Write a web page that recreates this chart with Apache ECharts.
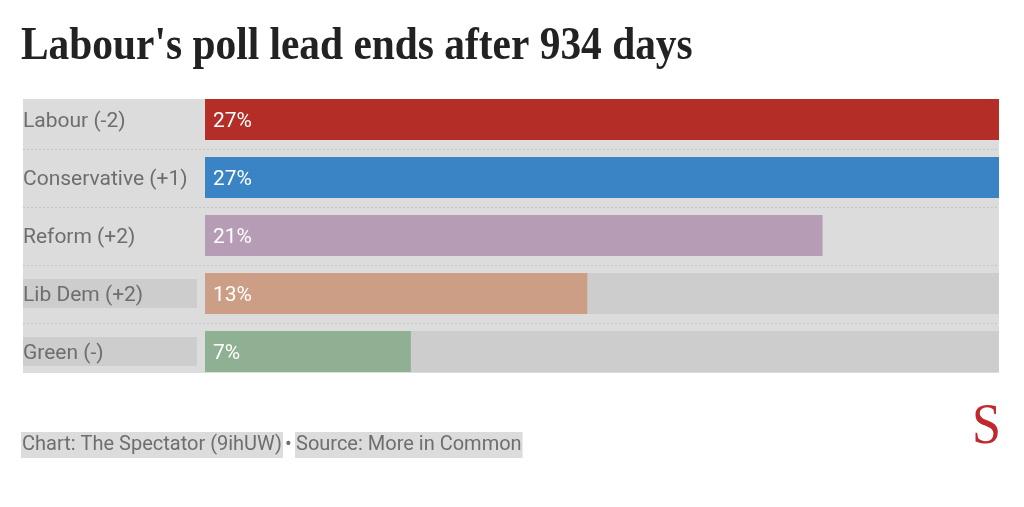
<!DOCTYPE html>
<html>
<head>
<meta charset="utf-8">
<script src="https://cdn.jsdelivr.net/npm/echarts@6/dist/echarts.min.js"></script>
<style>
html,body{margin:0;padding:0;background:#fff;}
#c{width:1024px;height:507px;}
</style>
</head>
<body>
<div id="c"></div>
<script>
const categories = ['Labour (-2)', 'Conservative (+1)', 'Reform (+2)', 'Lib Dem (+2)', 'Green (-)'];
const values = [27, 27, 21, 13, 7];
const colors = ['#b42e27', '#3a84c6', '#b79cb5', '#cd9e86', '#8fb092'];
const highlighted = [false, false, false, true, true];
const axisMax = 27;
const titleText = "Labour's poll lead ends after 934 days";
const creditText = 'Chart: The Spectator (9ihUW)';
const sourceText = 'Source: More in Common';

const chart = echarts.init(document.getElementById('c'));

const trackData = highlighted.map(h => h ? axisMax : '-');

const gTop = 99, gBottom = 373, gLeft = 23, gRight = 999;
const band = 58;
const gridTop = gTop - (band - 41) / 2;

const graphics = [
  {type: 'rect', z: -10, silent: true, shape: {x: gLeft, y: gTop, width: gRight - gLeft, height: gBottom - gTop}, style: {fill: '#dcdcdc'}}
];
for (let i = 1; i < categories.length; i++) {
  const y = Math.round(gridTop + band * i) + 0.5;
  graphics.push({type: 'line', z: -5, silent: true, shape: {x1: gLeft, y1: y, x2: gRight, y2: y}, style: {stroke: '#c6c6c6', lineWidth: 1, lineDash: [2, 2]}});
}
graphics.push({type: 'text', x: 21, y: 24, scaleX: 0.9, style: {text: titleText, fill: '#222', font: 'bold 46px "Liberation Serif", serif', verticalAlign: 'top'}});
graphics.push({type: 'text', x: 972, y: 400, scaleX: 0.93, style: {text: 'S', fill: '#c0282d', font: 'normal 56px "Liberation Serif", serif', verticalAlign: 'top'}});

const footStyle = {fontFamily: 'Roboto, sans-serif', fontWeight: 'normal', fontSize: 20, lineHeight: 20, color: '#6e6e6e'};

chart.setOption({
  animation: false,
  title: [
    {text: creditText, left: 21, top: 432, padding: [3, 1, 3, 1], backgroundColor: '#dcdcdc', textStyle: footStyle},
    {text: '•', left: 285, top: 432, padding: [3, 0, 3, 0], textStyle: footStyle},
    {text: sourceText, left: 295, top: 432, padding: [3, 1, 3, 1], backgroundColor: '#dcdcdc', textStyle: footStyle}
  ],
  graphic: graphics,
  grid: {left: 205, right: 1024 - gRight, top: gridTop, height: band * categories.length, containLabel: false},
  xAxis: {type: 'value', min: 0, max: axisMax, show: false},
  yAxis: {
    type: 'category', data: categories, inverse: true,
    axisLine: {show: false}, axisTick: {show: false}, splitLine: {show: false},
    axisLabel: {
      align: 'left', margin: 205 - gLeft, color: '#6e6e6e', fontFamily: 'Roboto, sans-serif', fontSize: 21,
      formatter: (v, i) => highlighted[i] ? '{hl|' + v + '}' : '{n|' + v + '}',
      rich: {
        hl: {backgroundColor: '#cdcdcd', width: 174, height: 25, lineHeight: 25, padding: [4, 0, 0, 0], color: '#6e6e6e', fontFamily: 'Roboto, sans-serif', fontSize: 21},
        n: {height: 25, lineHeight: 25, padding: [4, 0, 0, 0], color: '#6e6e6e', fontFamily: 'Roboto, sans-serif', fontSize: 21}
      }
    }
  },
  series: [
    {type: 'bar', data: trackData, barWidth: 41, barGap: '-100%', silent: true, itemStyle: {color: '#cdcdcd'}, z: 1},
    {
      type: 'bar', barWidth: 41, barGap: '-100%', z: 2,
      data: values.map((v, i) => ({value: v, itemStyle: {color: colors[i]}})),
      label: {show: true, position: 'insideLeft', distance: 8, offset: [0, 2], color: '#fff', fontFamily: 'Roboto, sans-serif', fontSize: 21, formatter: p => p.value + '%'}
    }
  ]
});
</script>
</body>
</html>
